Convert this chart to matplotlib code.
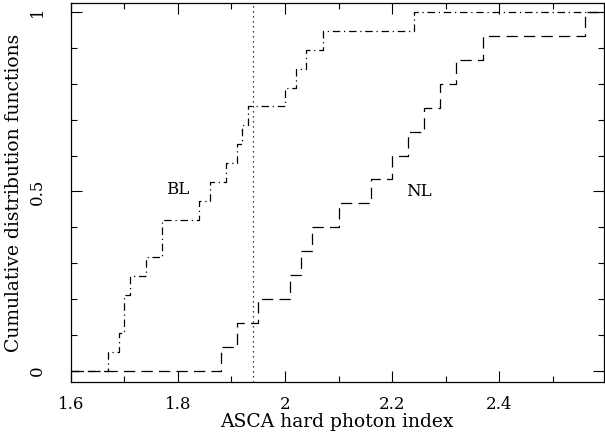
import numpy as np
import matplotlib
matplotlib.use("Agg")
import matplotlib.pyplot as plt
from matplotlib.ticker import MultipleLocator

# photon indices
bl_index = [1.67, 1.69, 1.70, 1.70, 1.71, 1.74, 1.77, 1.77, 1.84, 1.86,
            1.89, 1.91, 1.92, 1.93, 2.00, 2.02, 2.04, 2.07, 2.24]
nl_index = [1.88, 1.91, 1.95, 2.01, 2.03, 2.05, 2.10, 2.16, 2.20, 2.23,
            2.26, 2.29, 2.32, 2.37, 2.56]
split_index = 1.94

xmin, xmax = 1.6, 2.595

plt.rcParams['font.family'] = ['DejaVu Serif']

fig = plt.figure(figsize=(6.05, 4.33), dpi=100)
ax = fig.add_axes([0.117, 0.118, 0.881, 0.875])


def cdf_xy(vals):
    vals = np.sort(vals)
    n = len(vals)
    x = np.concatenate([[xmin], vals, [xmax]])
    y = np.concatenate([[0], np.arange(1, n + 1) / n, [1]])
    return x, y


x, y = cdf_xy(bl_index)
ax.step(x, y, where='post', color='black', lw=0.9,
        linestyle=(0, (6, 3, 1, 3)))
x, y = cdf_xy(nl_index)
ax.step(x, y, where='post', color='black', lw=0.9,
        linestyle=(0, (9, 5)))
ax.axvline(split_index, color='black', lw=0.9, linestyle=(0, (1, 3)))

ax.text(1.80, 0.505, 'BL', fontsize=12, ha='center', va='center')
ax.text(2.25, 0.50, 'NL', fontsize=12, ha='center', va='center')

ax.set_xlim(xmin, xmax)
ax.set_ylim(-0.031, 1.025)
ax.xaxis.set_minor_locator(MultipleLocator(0.1))
ax.yaxis.set_minor_locator(MultipleLocator(0.1))
ax.set_xticks([1.6, 1.8, 2.0, 2.2, 2.4])
ax.set_xticklabels(['1.6', '1.8', '2', '2.2', '2.4'])
ax.set_yticks([0, 0.5, 1])
ax.set_yticklabels(['0', '0.5', '1'], rotation=90, va='center')
ax.tick_params(which='both', direction='in', top=True, right=True,
               labelsize=12, width=0.8)
ax.tick_params(which='major', length=8)
ax.tick_params(axis='x', which='major', pad=10)
ax.tick_params(axis='y', which='major', pad=18)
ax.tick_params(which='minor', length=4.5)
for s in ax.spines.values():
    s.set_linewidth(0.9)

ax.set_xlabel('ASCA hard photon index', fontsize=13.5, labelpad=0)
ax.set_ylabel('Cumulative distribution functions', fontsize=13.5, labelpad=4)

fig.savefig('out.png', dpi=100)
